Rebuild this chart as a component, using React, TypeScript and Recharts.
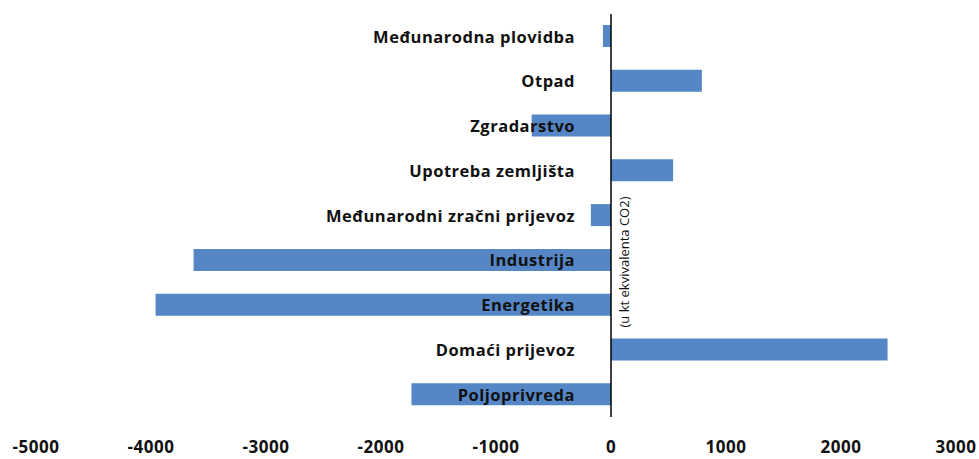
import React from 'react';
import { BarChart, Bar, XAxis, YAxis, ReferenceLine, LabelList } from 'recharts';

const sectors = [
  'Međunarodna plovidba',
  'Otpad',
  'Zgradarstvo',
  'Upotreba zemljišta',
  'Međunarodni zračni prijevoz',
  'Industrija',
  'Energetika',
  'Domaći prijevoz',
  'Poljoprivreda',
];
const values = [-70, 790, -690, 540, -175, -3630, -3960, 2405, -1735];
const xTicks = [-5000, -4000, -3000, -2000, -1000, 0, 1000, 2000, 3000];

const WIDTH = 979;
const HEIGHT = 459;
const MARGIN = { top: 14, right: 23, bottom: 0, left: 36 };
const PLOT_W = WIDTH - MARGIN.left - MARGIN.right;
// pixel position of zero on the x scale (domain -5000..3000)
const ZERO_X = MARGIN.left + (PLOT_W * 5000) / 8000;
const FONT = '"Open Sans", Lato, sans-serif';

const chartData = sectors.map((name, i) => ({ name, value: values[i] }));

const SectorLabel = (props: any) => {
  const { y, height, value } = props;
  return (
    <text
      x={ZERO_X - 36}
      y={y + height / 2}
      textAnchor="end"
      dominantBaseline="central"
      fontFamily={FONT}
      fontWeight={700}
      fontSize={16.5}
      letterSpacing={0.5}
      fill="#111111"
    >
      {value}
    </text>
  );
};

const UnitLabel = (props: any) => {
  const { viewBox } = props;
  const cx = viewBox.x + 13;
  const cy = 262;
  return (
    <text
      x={cx}
      y={cy}
      transform={`rotate(-90, ${cx}, ${cy})`}
      textAnchor="middle"
      dominantBaseline="central"
      fontFamily={FONT}
      fontSize={13}
      fill="#111111"
    >
      (u kt ekvivalenta CO2)
    </text>
  );
};

export default function App() {
  return (
    <div style={{ position: 'absolute', left: 0, top: 0, background: '#fff' }}>
      <BarChart
        width={WIDTH}
        height={HEIGHT}
        data={chartData}
        layout="vertical"
        margin={MARGIN}
      >
        <XAxis
          type="number"
          domain={[-5000, 3000]}
          ticks={xTicks}
          interval={0}
          axisLine={false}
          tickLine={false}
          height={42}
          tickMargin={18}
          tick={{ fill: '#111111', fontSize: 17, fontWeight: 700, fontFamily: FONT, letterSpacing: 0.5 }}
        />
        <YAxis type="category" dataKey="name" width={0} axisLine={false} tickLine={false} tick={false} />
        <Bar dataKey="value" fill="#5586c6" barSize={22} isAnimationActive={false}>
          <LabelList dataKey="name" content={SectorLabel} />
        </Bar>
        <ReferenceLine x={0} stroke="#000000" strokeWidth={1.5} label={UnitLabel} />
      </BarChart>
    </div>
  );
}
